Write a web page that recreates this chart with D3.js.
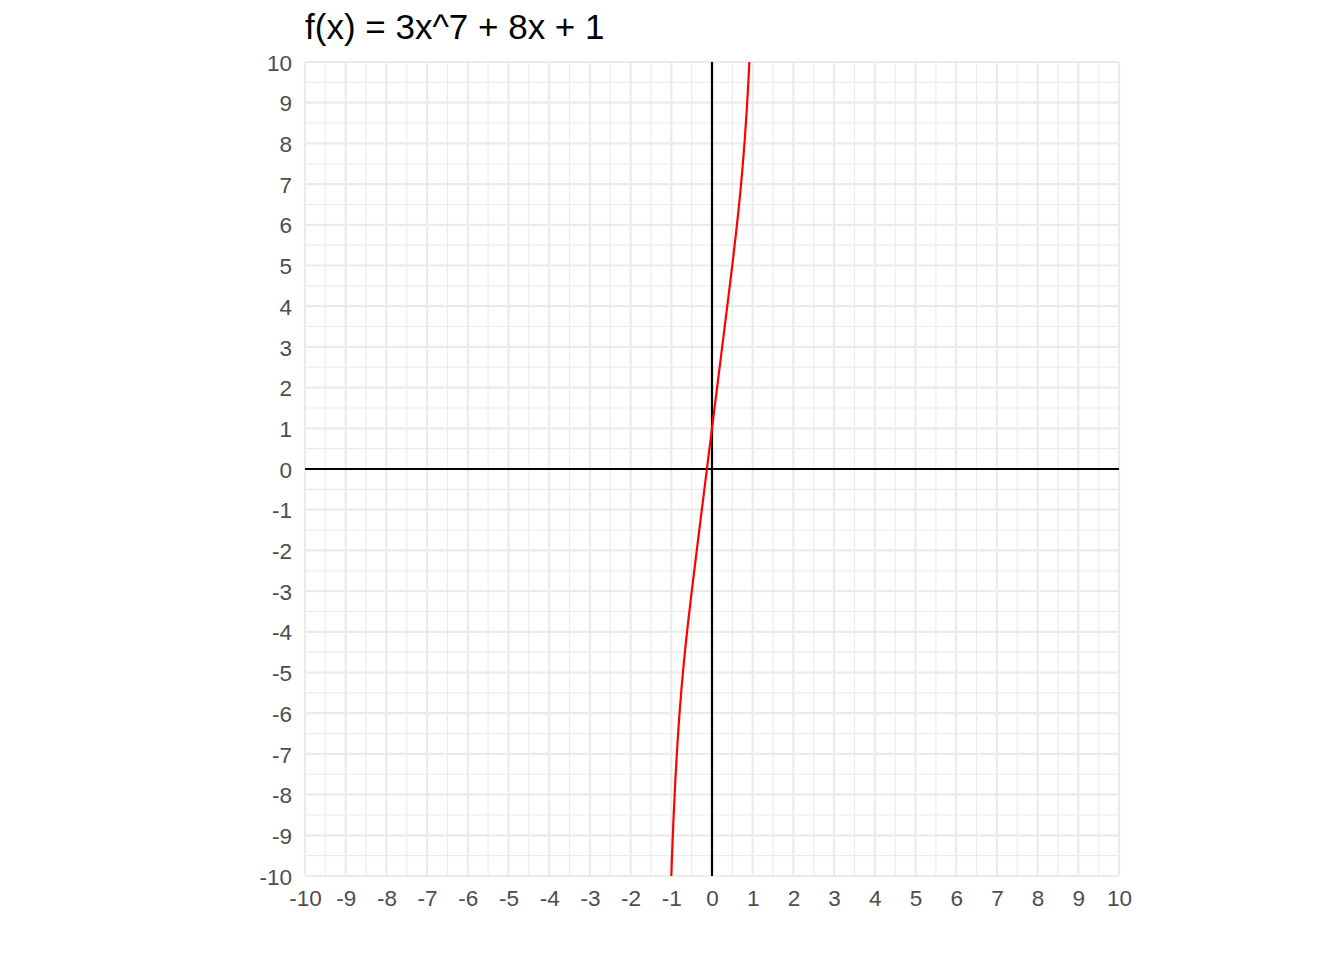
<!DOCTYPE html>
<html>
<head>
<meta charset="utf-8">
<script src="https://cdn.jsdelivr.net/npm/d3@7"></script>
<style>
  html, body { margin: 0; padding: 0; background: #fff; }
  svg { display: block; }
  text { font-family: "Liberation Sans", Arial, Helvetica, sans-serif; }
</style>
</head>
<body>
<svg id="chart" width="1344" height="960"></svg>
<script>
// Data
const titleText = "f(x) = 3x^7 + 8x + 1";
const xDomain = [-10, 10];
const yDomain = [-10, 10];
const xTicks = [-10, -9, -8, -7, -6, -5, -4, -3, -2, -1, 0, 1, 2, 3, 4, 5, 6, 7, 8, 9, 10];
const yTicks = [-10, -9, -8, -7, -6, -5, -4, -3, -2, -1, 0, 1, 2, 3, 4, 5, 6, 7, 8, 9, 10];
const minorBreaks = [-9.5, -8.5, -7.5, -6.5, -5.5, -4.5, -3.5, -2.5, -1.5, -0.5, 0.5, 1.5, 2.5, 3.5, 4.5, 5.5, 6.5, 7.5, 8.5, 9.5];
const curveX = [-1.0, -0.99, -0.98, -0.95, -0.9, -0.85, -0.8, -0.75, -0.7, -0.65, -0.6, -0.55, -0.5, -0.45, -0.4, -0.35, -0.3, -0.25, -0.2, -0.15, -0.1, -0.05, 0.0, 0.05, 0.1, 0.15, 0.2, 0.25, 0.3, 0.35, 0.4, 0.45, 0.5, 0.55, 0.6, 0.65, 0.7, 0.75, 0.8, 0.85, 0.88, 0.9, 0.918];
const curveY = [-10.0, -9.716, -9.444, -8.695, -7.635, -6.762, -6.029, -5.400, -4.847, -4.347, -3.884, -3.446, -3.023, -2.611, -2.205, -1.802, -1.401, -1.000, -0.600, -0.200, 0.200, 0.600, 1.0, 1.400, 1.800, 2.200, 2.600, 3.000, 3.401, 3.802, 4.205, 4.611, 5.023, 5.446, 5.884, 6.347, 6.847, 7.400, 8.029, 8.762, 9.266, 9.635, 10.0];

const svg = d3.select("#chart");
const panel = { left: 305, right: 1119, top: 62, bottom: 876 };

const x = d3.scaleLinear().domain(xDomain).range([panel.left, panel.right]);
const y = d3.scaleLinear().domain(yDomain).range([panel.bottom, panel.top]);

const grid = svg.append("g");
// minor grid
grid.selectAll("line.vminor").data(minorBreaks).enter().append("line")
  .attr("x1", d => x(d)).attr("x2", d => x(d))
  .attr("y1", panel.top).attr("y2", panel.bottom)
  .attr("stroke", "#EBEBEB").attr("stroke-width", 1.1);
grid.selectAll("line.hminor").data(minorBreaks).enter().append("line")
  .attr("y1", d => y(d)).attr("y2", d => y(d))
  .attr("x1", panel.left).attr("x2", panel.right)
  .attr("stroke", "#EBEBEB").attr("stroke-width", 1.1);
// major grid
grid.selectAll("line.vmajor").data(xTicks).enter().append("line")
  .attr("x1", d => x(d)).attr("x2", d => x(d))
  .attr("y1", panel.top).attr("y2", panel.bottom)
  .attr("stroke", "#EBEBEB").attr("stroke-width", 2.2);
grid.selectAll("line.hmajor").data(yTicks).enter().append("line")
  .attr("y1", d => y(d)).attr("y2", d => y(d))
  .attr("x1", panel.left).attr("x2", panel.right)
  .attr("stroke", "#EBEBEB").attr("stroke-width", 2.2);

// zero axes
svg.append("line").attr("x1", x(0)).attr("x2", x(0)).attr("y1", panel.top).attr("y2", panel.bottom)
  .attr("stroke", "#000").attr("stroke-width", 2.2);
svg.append("line").attr("y1", y(0)).attr("y2", y(0)).attr("x1", panel.left).attr("x2", panel.right)
  .attr("stroke", "#000").attr("stroke-width", 2.2);

// curve
const pts = curveX.map((d, i) => [d, curveY[i]]);
svg.append("path").datum(pts)
  .attr("d", d3.line().x(d => x(d[0])).y(d => y(d[1])).curve(d3.curveMonotoneX))
  .attr("fill", "none").attr("stroke", "#FF0000").attr("stroke-width", 2.2);

// axes (labels only)
const fmt = d => String(d);
const xAxis = d3.axisBottom(x).tickValues(xTicks).tickSize(0).tickPadding(0).tickFormat(fmt);
const gx = svg.append("g").attr("transform", `translate(0,${panel.bottom + 8})`).call(xAxis);
gx.select(".domain").remove();
gx.selectAll("text").attr("fill", "#4D4D4D").attr("font-size", 22.5)
  .attr("dy", "0.71em").attr("y", 6);

const yAxis = d3.axisLeft(y).tickValues(yTicks).tickSize(0).tickPadding(0).tickFormat(fmt);
const gy = svg.append("g").attr("transform", `translate(${panel.left - 13},0)`).call(yAxis);
gy.select(".domain").remove();
gy.selectAll("text").attr("fill", "#4D4D4D").attr("font-size", 22.5)
  .attr("dy", "0.36em").attr("x", 0);

// title
svg.append("text").attr("x", panel.left).attr("y", 39)
  .attr("font-size", 35).attr("fill", "#000").text(titleText);
</script>
</body>
</html>
